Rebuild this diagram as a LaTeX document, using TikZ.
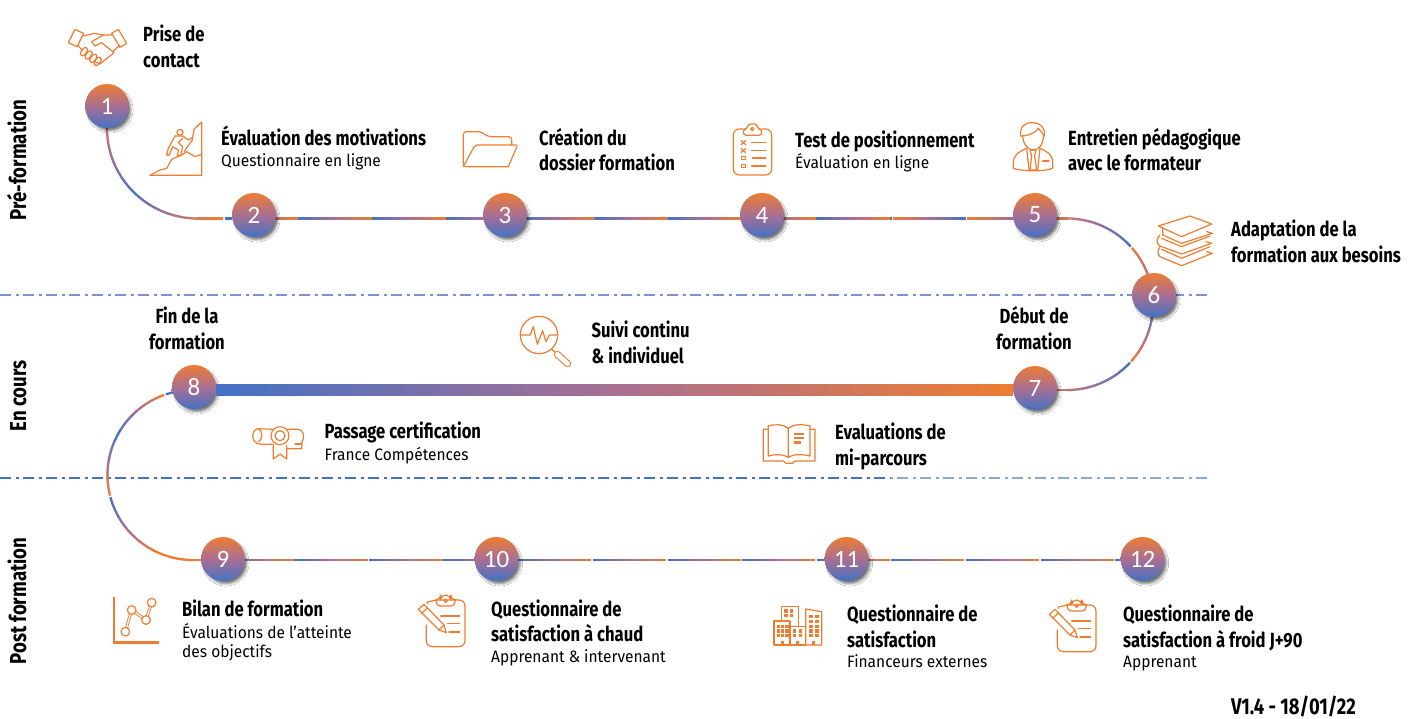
\documentclass[tikz,border=0pt]{standalone}
\usepackage{fontspec}
\usetikzlibrary{calc,decorations.markings,shadows.blur,backgrounds}
\newfontfamily\headfont[FakeStretch=0.81]{Fira Sans}
\newfontfamily\subfont[FakeStretch=0.94]{Fira Sans}
\newfontfamily\numfont{Carlito}
\definecolor{cOrange}{HTML}{ED7D31}
\definecolor{cBlue}{HTML}{4472C4}
\definecolor{cMid}{HTML}{A96F93}
\definecolor{cRule}{HTML}{4472C4}
\definecolor{cRuleTop}{HTML}{7795D5}
\definecolor{cRuleSoft}{HTML}{8FA6DA}
\tikzset{
  gradline/.style={
    decoration={markings,
      mark=between positions 0 and 1 step 1pt with {%
        \pgfkeysgetvalue{/pgf/decoration/mark info/distance from start}{\rampdist}%
        \pgfmathsetmacro{\rampdist}{\rampdist}%
        \pgfmathsetmacro{\rampval}{#1}%
        \ifdim\rampval pt<0pt\relax\else
          \pgfmathtruncatemacro{\rampct}{min(100,max(0,\rampval*100))}%
          \ifnum\rampct<50
            \pgfmathtruncatemacro{\rampmix}{2*\rampct}%
            \colorlet{rampcol}{cMid!\rampmix!cBlue}%
          \else
            \pgfmathtruncatemacro{\rampmix}{2*\rampct-100}%
            \colorlet{rampcol}{cOrange!\rampmix!cMid}%
          \fi
          \draw[line width=2.2pt,color=rampcol] (-0.7pt,0pt) -- (0.7pt,0pt);%
        \fi
      }},
    postaction={decorate}},
  stepnode/.style={circle,minimum size=44pt,inner sep=0pt,top color=cOrange,bottom color=cBlue,middle color=cMid,
    text=white,font=\numfont\fontsize{25}{25}\selectfont,
    blur shadow={shadow xshift=3pt,shadow yshift=-4pt,shadow blur radius=2.5pt,shadow opacity=55,shadow scale=0.95}},
  headtxt/.style={anchor=base west,inner sep=0pt,font=\headfont\bfseries\fontsize{20.5}{24}\selectfont},
  headmid/.style={anchor=base,inner sep=0pt,font=\headfont\bfseries\fontsize{20.5}{24}\selectfont},
  subtxt/.style={anchor=base west,inner sep=0pt,font=\subfont\fontsize{16.5}{20}\selectfont},
  bandtxt/.style={anchor=base,rotate=90,inner sep=0pt,font=\headfont\bfseries\fontsize{23}{24}\selectfont},
  vertxt/.style={anchor=base west,inner sep=0pt,font=\headfont\bfseries\fontsize{22.7}{24}\selectfont},
  ruletop/.style={draw=cRuleTop,line width=1.2pt,dash pattern=on 11pt off 4.5pt on 3pt off 4.5pt},
  rulesoft/.style={draw=cRuleSoft,line width=1.2pt,dash pattern=on 11pt off 4.5pt on 3pt off 4.5pt},
  rulehard/.style={draw=cRule,line width=1.2pt,dash pattern=on 11pt off 4.5pt on 3pt off 4.5pt},
  icon/.style={draw=cOrange,line width=1.2pt,line join=round,line cap=round,fill=none},
  iconfill/.style={fill=cOrange,draw=none},
  zoomunits/.style={x=0.33333pt,y=-0.33333pt},
}
\newcommand{\clipwithpencil}{%
  \draw[icon,rounded corners=6pt] (922,30) -- (1008,30) -- (1008,170) -- (892,170) -- (892,105);
  \draw[icon] (895,40) -- (895,36) -- (922,30);
  \draw[icon,rounded corners=4pt] (922,30) -- (922,48) -- (978,48) -- (978,30);
  \draw[icon,rounded corners=5pt] (922,30) -- (935,30) -- (935,15) -- (965,15) -- (965,30) -- (978,30);
  \draw[icon] (950,32) circle[radius=5];
  \draw[icon] (935,78) -- (992,78);
  \draw[icon] (955,100) -- (992,100);
  \draw[icon] (960,126) -- (992,126);
  \draw[icon,fill=white] (868,58) -- (885,43) -- (945,105) -- (952,128) -- (930,120) -- cycle;
  \draw[icon] (878,70) -- (895,54);
  \draw[icon] (930,120) -- (945,105);
}
\begin{document}
\begin{tikzpicture}[x=1pt,y=-1pt,
  declare function={saw(\a,\b)=ifthenelse(mod(\a,\b)>\b-1.6,-1,mod(\a,\b)/\b);}]
\useasboundingbox (0,0) rectangle (1414,718);

% Timeline stops
\node[stepnode] (n1) at (107,106) {1};
\node[stepnode] (n2) at (254,215) {2};
\node[stepnode] (n3) at (505,215) {3};
\node[stepnode] (n4) at (762,215) {4};
\node[stepnode] (n5) at (1035,215) {5};
\node[stepnode] (n6) at (1154,295) {6};
\node[stepnode] (n7) at (1035,388) {7};
\node[stepnode] (n8) at (194,387) {8};
\node[stepnode] (n9) at (223,559) {9};
\node[stepnode] (n10) at (496.5,559) {10};
\node[stepnode] (n11) at (846.5,559) {11};
\node[stepnode] (n12) at (1142.5,559) {12};

% Bend helpers
\coordinate (b12a) at (198,218.5);
\coordinate (b2w) at (232,218.5);
\coordinate (b2e) at (276,218.5);
\coordinate (b3w) at (483,218.5);
\coordinate (b3e) at (527,218.5);
\coordinate (b4w) at (740,218.5);
\coordinate (b4e) at (784,218.5);
\coordinate (b5w) at (1013,218.5);
\coordinate (b5e) at (1057,218.5);
\coordinate (b56) at (1067,218.5);
\coordinate (b6) at (1153,304);
\coordinate (b67) at (1067,390);
\coordinate (b7e) at (1057,390);
\coordinate (b8a) at (193,390);
\coordinate (b8w) at (172,390);
\coordinate (b89) at (107.5,475);
\coordinate (b9a) at (193,560);
\coordinate (b9w) at (201,560);
\coordinate (b9e) at (245,560);
\coordinate (b10w) at (474.5,560);
\coordinate (b10e) at (518.5,560);
\coordinate (b11w) at (824.5,560);
\coordinate (b11e) at (868.5,560);
\coordinate (b12w) at (1120.5,560);
\coordinate (barL) at (216,389.5);
\coordinate (barR) at (1013,389.5);
\coordinate (r1a) at (0,295);
\coordinate (r1b) at (1210,295);
\coordinate (r2a) at (0,478);
\coordinate (r2m) at (890,478);
\coordinate (r2b) at (1210,478);

\begin{scope}[on background layer]
  \fill[white] (0,0) rectangle (1414,718);
  % Phase separators
  \path[ruletop] (r1a) -- (r1b);
  \path[rulesoft] (r2a) -- (r2b);
  \path[rulehard] (r2a) -- (r2m);

  % Top row
  \path[gradline={\rampdist<71 ? (1-\rampdist/71)*0.75 : ifthenelse(\rampdist<168,(\rampdist-71)/85,ifthenelse(\rampdist<170,-1,0))}]
     (n1) to[out=-90,in=180] (b12a) -- (b2w);
  \path[gradline={saw(\rampdist+276-225,74)}] (b2e) -- (b3w);
  \path[gradline={saw(\rampdist+527-225,74)}] (b3e) -- (b4w);
  % this span rises up to x=892, then falls twice before stop 5
  \path[gradline={\rampdist<108 ? saw(\rampdist+784-225,74) : ifthenelse(\rampdist<110,-1,ifthenelse(\rampdist<182,1-(\rampdist-110)/72,ifthenelse(\rampdist<184,-1,1-(\rampdist-184)/85)))}] (b4e) -- (b5w);

  % Right-hand semicircle
  \path[gradline={\rampdist<82 ? (82-\rampdist)/95 : ifthenelse(\rampdist<84,-1,(156-\rampdist)/74)}]
     (b5e) -- (b56) to[out=0,in=90] (b6);
  \path[gradline={\rampdist<63 ? \rampdist/63 : ifthenelse(\rampdist<65,-1,(\rampdist-65)/100)}]
     (b6) to[out=-90,in=0] (b67) -- (b7e);

  % Left-hand semicircle
  \path[gradline={\rampdist<49 ? (49-\rampdist)/80 : ifthenelse(\rampdist<51,-1,ifthenelse(\rampdist<112,(112-\rampdist)/61,ifthenelse(\rampdist<176,(\rampdist-112)/64,ifthenelse(\rampdist<178,-1,(\rampdist-178)/74))))}]
     (b8w) -- (b8a) to[out=180,in=90] (b89) to[out=-90,in=180] (b9a) -- (b9w);

  % Bottom row
  \path[gradline={saw(\rampdist+245-220,74.6)}] (b9e) -- (b10w);
  \path[gradline={saw(\rampdist+518.5-220,74.6)}] (b10e) -- (b11w);
  \path[gradline={saw(\rampdist+868.5-220,74.6)}] (b11e) -- (b12w);
\end{scope}

% Thick training bar
\shade[left color=cBlue,right color=cOrange,middle color=cMid] ($(barL)+(0,-5.5)$) rectangle ($(barR)+(0,5.5)$);

% Band labels
\node[bandtxt] (bandA) at (26,160) {Pré-formation};
\node[bandtxt] (bandB) at (26,396) {En cours};
\node[bandtxt] (bandC) at (26,601) {Post formation};

% Step captions
\node[headtxt] (t1a) at (143,41) {Prise de};
\node[headtxt] (t1b) at (143,67) {contact};
\node[headtxt] (t2a) at (221,145) {Évaluation des motivations};
\node[subtxt]  (t2b) at (221,166) {Questionnaire en ligne};
\node[headtxt] (t3a) at (539,145) {Création du};
\node[headtxt] (t3b) at (539,170) {dossier formation};
\node[headtxt] (t4a) at (795,147) {Test de positionnement};
\node[subtxt]  (t4b) at (795,168) {Évaluation en ligne};
\node[headtxt] (t5a) at (1068,145) {Entretien pédagogique};
\node[headtxt] (t5b) at (1068,170) {avec le formateur};
\node[headtxt] (t6a) at (1231,236) {Adaptation de la};
\node[headtxt] (t6b) at (1231,262) {formation aux besoins};
\node[headmid] (t7a) at (1034,323) {Début de};
\node[headmid] (t7b) at (1034,349) {formation};
\node[headmid] (t8a) at (187,323) {Fin de la};
\node[headmid] (t8b) at (187,349) {formation};
\node[headtxt] (tsa) at (591.5,337) {Suivi continu};
\node[headtxt] (tsb) at (591.5,363) {\& individuel};
\node[headtxt] (tca) at (324.5,438) {Passage certification};
\node[subtxt]  (tcb) at (324.5,460) {France Compétences};
\node[headtxt] (tea) at (835,439) {Evaluations de};
\node[headtxt] (teb) at (835,465) {mi-parcours};
\node[headtxt] (t9a) at (182,616) {Bilan de formation};
\node[subtxt]  (t9b) at (182,638) {Évaluations de l’atteinte};
\node[subtxt]  (t9c) at (182,657) {des objectifs};
\node[headtxt] (t10a) at (491,616) {Questionnaire de};
\node[headtxt] (t10b) at (491,641) {satisfaction à chaud};
\node[subtxt]  (t10c) at (491,662) {Apprenant \& intervenant};
\node[headtxt] (t11a) at (847,621) {Questionnaire de};
\node[headtxt] (t11b) at (847,647) {satisfaction};
\node[subtxt]  (t11c) at (847,667) {Financeurs externes};
\node[headtxt] (t12a) at (1123,621) {Questionnaire de};
\node[headtxt] (t12b) at (1123,647) {satisfaction à froid J+90};
\node[subtxt]  (t12c) at (1123,667) {Apprenant};
\node[vertxt] (ver) at (1231,714) {V1.4 - 18/01/22};

% Handshake
\begin{scope}[zoomunits]
  \draw[icon] (205,128) -- (225,88) -- (250,100) -- (232,140) -- cycle;
  \draw[icon] (335,100) -- (355,88) -- (380,130) -- (360,142) -- cycle;
  \draw[icon] (250,108) -- (283,100) -- (310,105) -- (335,105);
  \draw[icon] (310,105) -- (275,125) -- (285,138) -- (305,128) -- (342,158) -- (300,192) -- (285,185);
  \draw[icon] (232,135) -- (246,150);
  \foreach \fx/\fy in {252/155,266/165,280/175,293/184}
    \draw[icon,rounded corners=2.5pt,rotate around={55:(\fx,\fy)}] (\fx-14,\fy-7) rectangle (\fx+14,\fy+7);
  \draw[icon] (338,155) -- (360,135);
\end{scope}

% Climber on a rock face
\begin{scope}[zoomunits]
  \draw[icon] (450,526) -- (605,526) -- (605,366) -- (582,388) -- (577,420) -- (552,455);
  \draw[icon] (450,526) -- (480,510) -- (500,505) -- (515,478) -- (545,465) -- (560,455) -- (585,470) -- (605,463);
  \draw[icon] (540,397) circle[radius=9];
  \draw[icon] (525,408) -- (548,408) -- (565,420) -- (577,412);
  \draw[icon] (525,408) -- (505,445) -- (500,465) -- (508,465) -- (518,440) -- (535,450) -- (532,466) -- (542,466) -- (548,440) -- (535,428) -- (548,415);
\end{scope}

% Folder
\begin{scope}[shift={(450,100)},zoomunits]
  \draw[icon,rounded corners=3pt] (185,135) -- (185,110) -- (115,110) -- (92,95) -- (40,95) -- (40,200) -- (175,200);
  \draw[icon,rounded corners=2pt] (40,200) -- (75,135) -- (203,135) -- (175,200);
\end{scope}

% Checklist clipboard
\begin{scope}[shift={(450,100)},zoomunits]
  \draw[icon,rounded corners=6pt] (880,87) -- (850,87) -- (850,225) -- (965,225) -- (965,87) -- (935,87);
  \draw[icon,rounded corners=3pt] (880,87) -- (880,106) -- (935,106) -- (935,87) -- (922,87) -- (922,72) -- (893,72) -- (893,87) -- cycle;
  \draw[icon] (907,87) circle[radius=5];
  \foreach \my in {128,152}{
    \draw[icon] (873,\my-6) -- (887,\my+6);
    \draw[icon] (873,\my+6) -- (887,\my-6);
    \draw[icon,line width=1.4pt] (905,\my) -- (947,\my);
  }
  \foreach \my in {174,198}{
    \draw[icon] (874,\my-5) rectangle (886,\my+5);
  }
  \draw[icon,line width=2pt,line cap=butt] (905,174) -- (947,174);
  \draw[icon,line width=1.4pt] (905,198) -- (947,198);
\end{scope}

% Trainer portrait
\begin{scope}[shift={(980,100)},zoomunits]
  \draw[icon] (122,108) .. controls (118,80) and (135,66) .. (160,68) .. controls (180,68) and (198,85) .. (193,108);
  \draw[icon] (122,108) .. controls (150,108) and (170,95) .. (175,85) .. controls (180,90) and (188,100) .. (193,108);
  \draw[icon] (128,108) .. controls (130,135) and (145,150) .. (160,150) .. controls (175,150) and (190,135) .. (190,108);
  \draw[icon] (140,145) .. controls (120,155) and (100,160) .. (100,190) -- (100,205) .. controls (130,215) and (190,215) .. (218,205) -- (218,190) .. controls (218,160) and (200,155) .. (180,145);
  \draw[icon] (140,145) -- (147,210);
  \draw[icon] (180,145) -- (173,210);
  \draw[icon] (150,150) -- (168,150) -- (164,168) -- (170,210) -- (150,210) -- (155,168) -- cycle;
  \draw[icon,line width=1.4pt] (188,183) -- (207,183);
\end{scope}

% Stack of books
\begin{scope}[shift={(980,100)},zoomunits]
  \draw[icon] (535,378) -- (630,348) -- (695,372) -- (605,410) -- cycle;
  \draw[icon] (548,385) -- (548,405) -- (605,430) -- (697,400) -- (680,395);
  \draw[icon] (540,405) .. controls (528,415) and (528,430) .. (540,438) -- (605,462) -- (695,430) -- (678,425);
  \draw[icon] (545,415) -- (605,440) -- (690,408);
  \draw[icon] (540,440) .. controls (532,450) and (532,462) .. (540,470) -- (605,497) -- (697,460) -- (680,455);
  \draw[icon] (545,448) -- (605,475) -- (690,440);
\end{scope}

% Magnifier over a pulse trace
\begin{scope}[shift={(500,300)},zoomunits]
  \draw[icon] (117,105) circle[radius=56];
  \draw[icon] (60,105) -- (90,105) -- (100,80) -- (112,133) -- (128,92) -- (138,125) -- (148,105) -- (172,105);
  \draw[icon] (155,148) -- (165,156);
  \draw[draw=cOrange,line width=7pt,line cap=round] (172,163) -- (203,191);
  \draw[draw=white,line width=4.8pt,line cap=round] (172,163) -- (203,191);
\end{scope}

% Certificate scroll
\begin{scope}[shift={(90,300)},zoomunits]
  \draw[icon] (548,388) -- (505,386) .. controls (490,388) and (485,405) .. (490,418) .. controls (495,430) and (505,433) .. (515,433) -- (550,433);
  \draw[icon] (505,386) .. controls (520,392) and (518,420) .. (505,426);
  \draw[icon] (592,388) -- (625,388) .. controls (640,390) and (647,410) .. (635,428) -- (635,446) -- (592,446);
  \draw[icon] (635,432) -- (615,432);
  \draw[icon] (570,407) circle[radius=27];
  \draw[icon] (570,407) circle[radius=15];
  \draw[icon] (550,437) -- (550,477) -- (570,462) -- (590,477) -- (590,437);
\end{scope}

% Open book
\begin{scope}[shift={(500,300)},zoomunits]
  \draw[icon] (805,388) -- (790,388) -- (790,483) -- (850,483) -- (858,490) -- (877,490) -- (885,483) -- (945,483) -- (945,388) -- (930,388);
  \draw[icon] (865,385) .. controls (850,372) and (825,372) .. (805,378) -- (805,468) .. controls (825,462) and (850,462) .. (865,472);
  \draw[icon] (865,385) .. controls (880,372) and (905,372) .. (930,378) -- (930,468) .. controls (905,462) and (880,462) .. (865,472) -- cycle;
  \draw[icon,line width=1.8pt,line cap=butt] (882,403) -- (912,403);
  \draw[icon,line width=1.8pt,line cap=butt] (882,415) -- (912,415);
  \draw[icon,line width=2.4pt,line cap=butt] (882,427) -- (903,427);
\end{scope}

% Rising chart
\begin{scope}[shift={(100,590)},zoomunits]
  \draw[icon,line width=2.8pt,line cap=butt,line join=miter] (42,22) -- (42,157) -- (176,157);
  \draw[draw=cOrange,line width=0.9pt,double=white,double distance=1.2pt] (76,125) -- (95,60) -- (138,90) -- (155,38);
  \foreach \px/\py in {76/125,95/60,138/90,155/38}
    \draw[icon,fill=white] (\px,\py) circle[radius=13];
\end{scope}

% Satisfaction clipboards
\begin{scope}[shift={(129,590)},zoomunits]
  \clipwithpencil
\end{scope}
\begin{scope}[shift={(760,595)},zoomunits]
  \clipwithpencil
\end{scope}

% Buildings
\begin{scope}[shift={(760,595)},zoomunits]
  \draw[icon] (65,78) -- (65,35) -- (115,35) -- (115,95);
  \draw[icon] (42,78) rectangle (90,150);
  \draw[icon] (90,95) rectangle (137,150);
  \draw[icon] (137,150) -- (137,42) -- (185,50) -- (185,150) -- cycle;
  \foreach \wx in {55,68,81}
    \foreach \wy in {95,108,122}
      \fill[iconfill] (\wx-5,\wy-5) rectangle (\wx+5,\wy+5);
  \foreach \wx in {78,94}
    \foreach \wy in {48,62}
      \fill[iconfill] (\wx-5,\wy-5) rectangle (\wx+5,\wy+5);
  \foreach \wx in {103,121}
    \foreach \wy in {108,122}
      \fill[iconfill] (\wx-5,\wy-5) rectangle (\wx+5,\wy+5);
  \foreach \wx in {153,170}
    \foreach \wy in {65,80,95,108,122}
      \fill[iconfill] (\wx-6,\wy-5) rectangle (\wx+6,\wy+5);
  \foreach \wx in {68,113,160}
    \fill[iconfill] (\wx-4,138) rectangle (\wx+4,150);
\end{scope}
\end{tikzpicture}
\end{document}
